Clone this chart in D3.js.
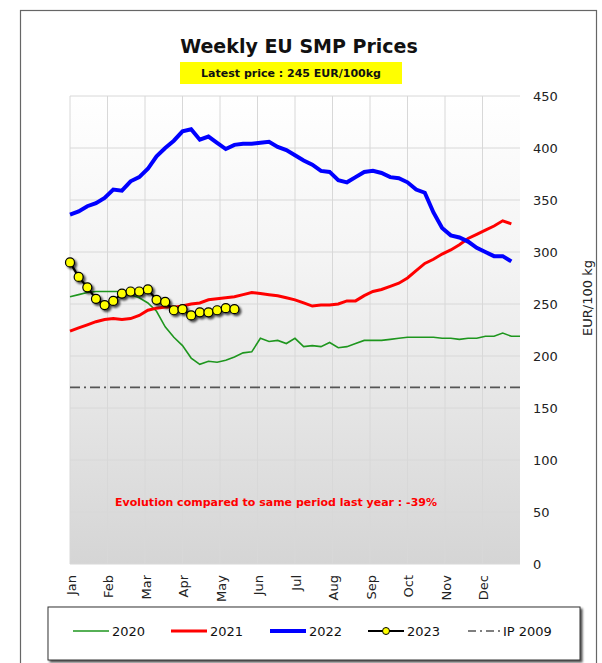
<!DOCTYPE html>
<meta charset="utf-8">
<html>
<head>
  <script src="https://d3js.org/d3.v7.min.js" charset="utf-8"></script>
  <style>
    body { margin: 0; background: #fff; }
    svg text { font-family: 'DejaVu Sans', Verdana, sans-serif; }
    .tick-y { font-size: 13px; fill: #222; }
    .tick-x { font-size: 13px; fill: #222; }
    .grid line { stroke: #d8d8d8; stroke-width: 1; }
  </style>
</head>
<body>
<script>
  // Chart data
  var months = ["Jan", "Feb", "Mar", "Apr", "May", "Jun", "Jul", "Aug", "Sep", "Oct", "Nov", "Dec"];
  var yTicks = [0, 50, 100, 150, 200, 250, 300, 350, 400, 450];
  var p2020 = [257, 259, 261, 262, 262, 262, 262, 259, 256, 251, 243, 228, 218, 210, 198, 192, 195, 194, 196, 199,
    203, 204, 217, 214, 215, 212, 217, 209, 210, 209, 213, 208, 209, 212, 215, 215, 215, 216, 217, 218,
    218, 218, 218, 217, 217, 216, 217, 217, 219, 219, 222, 219, 219];
  var p2021 = [224, 227, 230, 233, 235, 236, 235, 236, 239, 244, 246, 247, 247, 248, 250, 251, 254, 255, 256, 257,
    259, 261, 260, 259, 258, 256, 254, 251, 248, 249, 249, 250, 253, 253, 258, 262, 264, 267, 270, 275,
    282, 289, 293, 298, 302, 307, 313, 317, 321, 325, 330, 327];
  var p2022 = [336, 339, 344, 347, 352, 360, 359, 368, 372, 380, 392, 400, 407, 416, 418, 408, 411, 405, 399, 403,
    404, 404, 405, 406, 401, 398, 393, 388, 384, 378, 377, 369, 367, 372, 377, 378, 376, 372, 371, 367,
    360, 357, 338, 323, 316, 314, 310, 304, 300, 296, 296, 291];
  var p2023 = [290, 276, 266, 255, 249, 253, 260, 262, 262, 264, 254, 252, 244, 245, 239, 242, 242, 244, 246, 245];
  var ip2009 = 169.8;
  var latest = 245;
  var evolution = -39;

  var W = 602, H = 663;
  var m = { top: 96, left: 70, right: 82, bottom: 99 };
  var w = W - m.left - m.right, h = H - m.top - m.bottom;

  var svg = d3.select("body").append("svg")
    .attr("width", W).attr("height", H);

  var defs = svg.append("defs");
  var grad = defs.append("linearGradient").attr("id", "bg")
    .attr("x1", 0).attr("y1", 0).attr("x2", 0).attr("y2", 1);
  grad.append("stop").attr("offset", "0%").attr("stop-color", "#ffffff");
  grad.append("stop").attr("offset", "35%").attr("stop-color", "#f4f4f4");
  grad.append("stop").attr("offset", "100%").attr("stop-color", "#d5d5d5");
  var shadow = defs.append("filter").attr("id", "shadow")
    .attr("x", "-10%").attr("y", "-20%").attr("width", "130%").attr("height", "160%");
  shadow.append("feDropShadow").attr("dx", 2).attr("dy", 2).attr("stdDeviation", 1.2)
    .attr("flood-color", "#000").attr("flood-opacity", 0.7);

  // outer frame
  svg.append("rect")
    .attr("x", 20.5).attr("y", 10.5).attr("width", 576).attr("height", 680)
    .attr("fill", "#fff").attr("stroke", "#666").attr("stroke-width", 1.2);

  // title
  svg.append("text")
    .attr("x", 299).attr("y", 53)
    .attr("text-anchor", "middle")
    .style("font-size", "19px").style("font-weight", "bold").attr("fill", "#111")
    .text("Weekly EU SMP Prices");

  svg.append("rect")
    .attr("x", 180).attr("y", 62).attr("width", 222).attr("height", 22)
    .attr("fill", "#ffff00");
  svg.append("text")
    .attr("x", 291).attr("y", 77)
    .attr("text-anchor", "middle")
    .style("font-size", "11px").style("font-weight", "bold").attr("fill", "#111")
    .text("Latest price : " + latest + " EUR/100kg");

  var g = svg.append("g").attr("transform", `translate(${m.left}, ${m.top})`);

  //Scales
  var x = d3.scaleLinear().domain([0, 52]).range([0, w]);
  var xm = d3.scaleLinear().domain([0, 12]).range([0, w]);
  var y = d3.scaleLinear().domain([0, 450]).range([h, 0]);

  g.append("rect").attr("width", w).attr("height", h).attr("fill", "url(#bg)");

  // grid
  var grid = g.append("g").attr("class", "grid");
  grid.selectAll(".hy").data(yTicks).enter().append("line")
    .attr("x1", 0).attr("x2", w)
    .attr("y1", d => y(d)).attr("y2", d => y(d));
  grid.selectAll(".vx").data(d3.range(12)).enter().append("line")
    .attr("x1", d => xm(d)).attr("x2", d => xm(d))
    .attr("y1", 0).attr("y2", h);

  // y axis on the right
  g.selectAll(".tick-y").data(yTicks).enter().append("text")
    .attr("class", "tick-y")
    .attr("x", w + 13).attr("y", d => y(d)).attr("dy", "0.36em")
    .text(d => d);

  g.append("text")
    .attr("transform", `translate(${w + 72}, ${y(250) - 6}) rotate(-90)`)
    .attr("text-anchor", "middle")
    .style("font-size", "13px").attr("fill", "#222")
    .text("EUR/100 kg");

  // month labels
  g.selectAll(".tick-x").data(months).enter().append("text")
    .attr("class", "tick-x")
    .attr("transform", (d, i) => `translate(${xm(i) + 1}, ${h + 11}) rotate(-90)`)
    .attr("text-anchor", "end").attr("dy", "0.36em")
    .text(d => d);

  // IP 2009
  g.append("line")
    .attr("x1", 0).attr("x2", w)
    .attr("y1", y(ip2009)).attr("y2", y(ip2009))
    .attr("stroke", "#555").attr("stroke-width", 1.6)
    .attr("stroke-dasharray", "10,4,2,4");

  var line = d3.line().x((d, i) => x(i)).y(d => y(d));

  g.append("path").datum(p2020).attr("d", line)
    .attr("fill", "none").attr("stroke", "#1e961e").attr("stroke-width", 1.6);
  g.append("path").datum(p2021).attr("d", line)
    .attr("fill", "none").attr("stroke", "#ff0000").attr("stroke-width", 3);
  g.append("path").datum(p2022).attr("d", line)
    .attr("fill", "none").attr("stroke", "#0000ff").attr("stroke-width", 4);

  var s23 = g.append("g").attr("filter", "url(#shadow)");
  s23.append("path").datum(p2023).attr("d", line)
    .attr("fill", "none").attr("stroke", "#000").attr("stroke-width", 2.2);
  s23.selectAll("circle").data(p2023).enter().append("circle")
    .attr("cx", (d, i) => x(i)).attr("cy", d => y(d)).attr("r", 4.5)
    .attr("fill", "#ffff00").attr("stroke", "#000").attr("stroke-width", 1.2);

  g.append("text")
    .attr("x", 206).attr("y", y(59)).attr("dy", "0.35em")
    .attr("text-anchor", "middle")
    .style("font-size", "11px").style("font-weight", "bold").attr("fill", "#ff0000")
    .text("Evolution compared to same period last year : " + evolution + "%");

  // legend
  var lg = svg.append("g");
  lg.append("rect")
    .attr("x", 48).attr("y", 607).attr("width", 532).attr("height", 53)
    .attr("fill", "#fff").attr("stroke", "#333").attr("stroke-width", 1)
    .attr("filter", "url(#shadow)");
  var legend = [
    { label: "2020", color: "#1e961e", width: 1.6, x: 73 },
    { label: "2021", color: "#ff0000", width: 3, x: 171 },
    { label: "2022", color: "#0000ff", width: 4, x: 270 },
    { label: "2023", color: "#000", width: 2.2, x: 368, marker: true },
    { label: "IP 2009", color: "#555", width: 1.4, x: 468, dash: "8,4,2,4" }
  ];
  var ly = 631;
  legend.forEach(function (d) {
    lg.append("line")
      .attr("x1", d.x).attr("x2", d.x + 36).attr("y1", ly).attr("y2", ly)
      .attr("stroke", d.color).attr("stroke-width", d.width)
      .attr("stroke-dasharray", d.dash || null);
    if (d.marker) {
      lg.append("circle").attr("cx", d.x + 18).attr("cy", ly).attr("r", 3.5)
        .attr("fill", "#ffff00").attr("stroke", "#000").attr("stroke-width", 1);
    }
    lg.append("text")
      .attr("x", d.x + (d.dash ? 35 : 39)).attr("y", ly).attr("dy", "0.36em")
      .style("font-size", "13px").attr("fill", "#111")
      .text(d.label);
  });
</script>
</body>
</html>
